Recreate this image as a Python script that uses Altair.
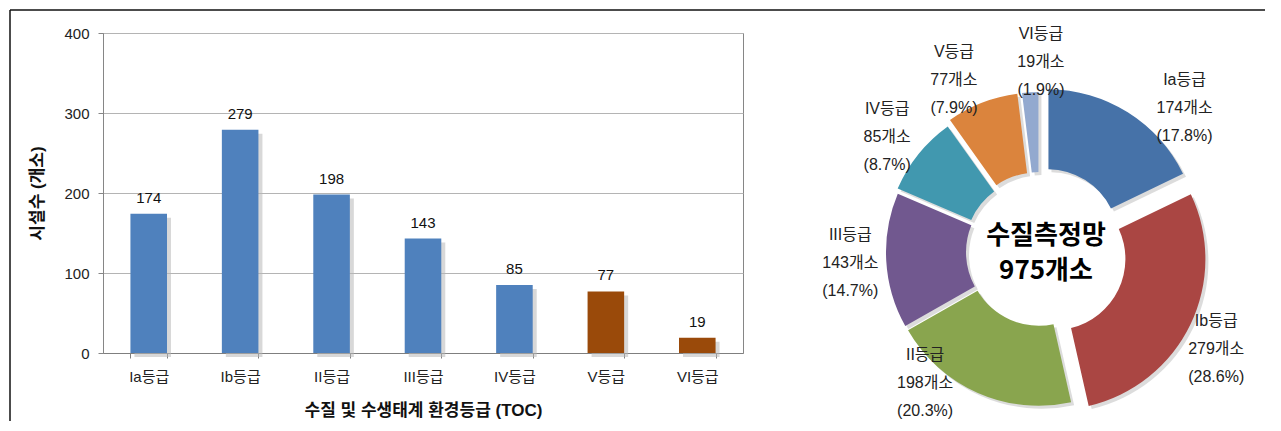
import math
import altair as alt
import pandas as pd

# ---------------- data ----------------
grades = ["Ia등급", "Ib등급", "II등급", "III등급", "IV등급", "V등급", "VI등급"]
counts = [174, 279, 198, 143, 85, 77, 19]
y_ticks = [0, 100, 200, 300, 400]
x_title = "수질 및 수생태계 환경등급 (TOC)"
y_title = "시설수 (개소)"
center_title = "수질측정망"
unit = "개소"
total = sum(counts)

# ---------------- styles ----------------
FONT = "Liberation Sans, Noto Sans CJK KR, sans-serif"
BAR_COLORS = ["#4F81BD", "#4F81BD", "#4F81BD", "#4F81BD", "#4F81BD", "#9A4A0A", "#9A4A0A"]
PIE_COLORS = ["#4672A8", "#AA4643", "#89A54E", "#71588F", "#4198AF", "#DB843D", "#93A9CF"]
EXPLODE = [14, 16, 3, 3, 5, 9, 9]            # slice pull-out, px
LABEL_NUDGE = [13, 3, 17.5, 0, -2, -5.4, 3.8]  # label angle tweak, degrees
LABEL_R = [204, 201, 174, 190, 191, 192, 190]  # label radius, px

df = pd.DataFrame({
    "grade": grades,
    "n": counts,
    "idx": list(range(len(grades))),
    "explode": EXPLODE,
    "nudge": LABEL_NUDGE,
    "lr": LABEL_R,
})

# ---------------- bar chart ----------------
BW, BH = 640, 320
x_enc = alt.X(
    "grade:N", sort=grades,
    scale=alt.Scale(paddingInner=0.6, paddingOuter=0.3),
    axis=alt.Axis(title=x_title, labelAngle=0, tickBand="extent", tickSize=5,
                  labelPadding=11, labelFontSize=15, labelColor="#222222",
                  labelFont=FONT, titleFont=FONT, titleFontSize=17,
                  titleFontWeight="bold", titleColor="#111111", titlePadding=18,
                  domainColor="#7f7f7f", tickColor="#7f7f7f", grid=False),
)
y_enc = alt.Y(
    "n:Q",
    scale=alt.Scale(domain=[0, 400], nice=False),
    axis=alt.Axis(values=y_ticks, title=y_title, tickSize=5, labelPadding=9,
                  labelFontSize=15, labelColor="#222222", labelFont=FONT,
                  titleFont=FONT, titleFontSize=17, titleFontWeight="bold",
                  titleColor="#111111", titlePadding=17, grid=True,
                  gridColor="#b4b4b4", domainColor="#868686", tickColor="#868686"),
)

bar_base = alt.Chart(df)
shadow = bar_base.mark_bar(color="#b8b8b8", opacity=0.55, xOffset=4, yOffset=4).encode(x=x_enc, y=y_enc)
bars = bar_base.mark_bar().encode(
    x=x_enc, y=y_enc,
    color=alt.Color("grade:N", scale=alt.Scale(domain=grades, range=BAR_COLORS), legend=None),
)
bar_labels = bar_base.mark_text(dy=-11, fontSize=15, font=FONT, color="#111111",
                                baseline="alphabetic").encode(x=x_enc, y=y_enc, text="n:Q")

frame_src = pd.DataFrame({"k": [0]})
frame_top = alt.Chart(frame_src).mark_rule(color="#111111", strokeWidth=1.5).encode(
    x=alt.value(-93), x2=alt.value(1162), y=alt.value(-23))
frame_left = alt.Chart(frame_src).mark_rule(color="#111111", strokeWidth=1.5).encode(
    x=alt.value(-93), y=alt.value(-23), y2=alt.value(388))

bar_chart = alt.layer(shadow, bars, bar_labels, frame_top, frame_left).properties(
    width=BW, height=BH, view=alt.ViewBackground(stroke="#868686"))

# ---------------- donut chart ----------------
DW, DH = 460, 385
CX, CY = 240, 219
xs = alt.Scale(domain=[-CX, DW - CX], nice=False, zero=False)
ys = alt.Scale(domain=[-(DH - CY), CY], nice=False, zero=False)

d_base = (
    alt.Chart(df)
    .transform_joinaggregate(total="sum(n)")
    .transform_window(cum="sum(n)", sort=[alt.SortField("idx")], frame=[None, 0])
    .transform_calculate(start="datum.cum - datum.n",
                         mid="(datum.cum - datum.n / 2) / datum.total * 2 * PI")
    .transform_calculate(cx="datum.explode * sin(datum.mid)",
                         cy="datum.explode * cos(datum.mid)",
                         la="datum.mid + datum.nudge * PI / 180")
    .transform_calculate(sx="datum.cx + 3", sy="datum.cy - 3",
                         lx="datum.lr * sin(datum.la)",
                         ly="datum.lr * cos(datum.la)",
                         label="datum.grade + '|' + datum.n + '개소|(' + format(datum.n / datum.total, '.1%') + ')'")
)
theta = alt.Theta("start:Q", stack=False,
                  scale=alt.Scale(domain=[0, total], range=[0, 2 * math.pi]))
theta2 = alt.Theta2("cum:Q")

arc_shadow = d_base.mark_arc(radius=151, radius2=71, padAngle=0.012, color="#9a9a9a", opacity=0.35).encode(
    theta=theta, theta2=theta2,
    x=alt.X("sx:Q", scale=xs, axis=None), y=alt.Y("sy:Q", scale=ys, axis=None))
arcs = d_base.mark_arc(radius=151, radius2=71, padAngle=0.012).encode(
    theta=theta, theta2=theta2,
    x=alt.X("cx:Q", scale=xs, axis=None), y=alt.Y("cy:Q", scale=ys, axis=None),
    color=alt.Color("grade:N", scale=alt.Scale(domain=grades, range=PIE_COLORS), legend=None),
    order=alt.Order("idx:Q"))
pie_labels = d_base.mark_text(lineBreak="|", lineHeight=28, dy=-28, fontSize=16, font=FONT,
                              color="#222222", align="center", baseline="middle").encode(
    x=alt.X("lx:Q", scale=xs, axis=None), y=alt.Y("ly:Q", scale=ys, axis=None), text="label:N")

center_src = pd.DataFrame({"t": [center_title + "|" + f"{total}{unit}"]})
center_text = alt.Chart(center_src).mark_text(
    lineBreak="|", lineHeight=35, dy=-18, fontSize=26, fontWeight="bold",
    font="Noto Sans CJK KR, sans-serif", color="#000000", align="center", baseline="middle").encode(
    x=alt.datum(6, scale=xs), y=alt.datum(-2, scale=ys), text="t:N")

donut = alt.layer(arc_shadow, arcs, pie_labels, center_text).properties(
    width=DW, height=DH, view=alt.ViewBackground(strokeOpacity=0))

chart = alt.hconcat(bar_chart, donut, spacing=57, bounds="flush").resolve_scale(
    color="independent").properties(padding=0, background="#ffffff")

chart.save("out.html", embed_options={"renderer": "svg", "actions": False})
